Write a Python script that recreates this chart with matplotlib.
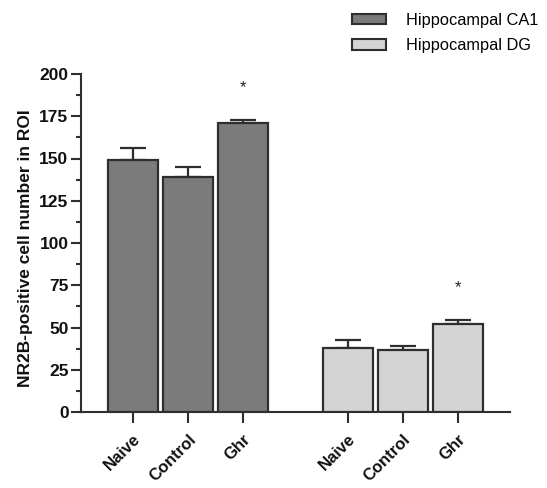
import matplotlib
matplotlib.use("Agg")
import matplotlib.pyplot as plt
from matplotlib.patches import Patch
from matplotlib.ticker import MultipleLocator

plt.rcParams["font.family"] = ["Liberation Sans", "DejaVu Sans"]

groups = ["Hippocampal CA1", "Hippocampal DG"]
categories = ["Naive", "Control", "Ghr"]
ca1_means = [149, 139, 171]
ca1_err = [7, 6, 2]
dg_means = [38, 36.5, 52]
dg_err = [4.5, 2.5, 2.5]
ca1_sig = [False, False, True]
dg_sig = [False, False, True]
y_ticks = [0, 25, 50, 75, 100, 125, 150, 175, 200]

dark = "#7b7b7b"
light = "#d4d4d4"
edge = "#2e2e2e"

fig = plt.figure(figsize=(5.47, 4.88), dpi=100)
ax = fig.add_axes([81/547, 1-412/488, (510-81)/547, (412-74)/488])

x1 = [0, 1, 2]
x2 = [3.9, 4.9, 5.9]
w = 0.91
ekw = dict(elinewidth=1.6, capthick=1.6, ecolor=edge)
ax.bar(x1, ca1_means, width=w, color=dark, edgecolor=edge, linewidth=1.6, zorder=3)
ax.errorbar(x1, ca1_means, yerr=[[0]*3, ca1_err], fmt="none", capsize=9.5, zorder=2, **ekw)
ax.bar(x2, dg_means, width=w, color=light, edgecolor=edge, linewidth=1.6, zorder=3)
ax.errorbar(x2, dg_means, yerr=[[0]*3, dg_err], fmt="none", capsize=9.5, zorder=2, **ekw)

for xs, m, e, s in [(x1, ca1_means, ca1_err, ca1_sig), (x2, dg_means, dg_err, dg_sig)]:
    for xi, mi, ei, si in zip(xs, m, e, s):
        if si:
            ax.text(xi, mi + ei + 19, "*", ha="center", va="center", fontsize=12, color="#222")

ax.set_xlim(-0.945, 6.85)
ax.set_ylim(0, 200)
ax.set_yticks(y_ticks)
ax.yaxis.set_minor_locator(MultipleLocator(12.5))
ax.set_xticks(x1 + x2)
ax.set_xticklabels(categories + categories, rotation=45, ha="right", rotation_mode="anchor",
                   fontsize=12, fontweight="bold")
for lab in ax.get_yticklabels():
    lab.set_fontweight("bold")
    lab.set_fontsize(12.5)
ax.tick_params(axis="y", which="major", length=7, width=1.5, direction="out", pad=2, colors=edge)
ax.tick_params(axis="y", which="minor", length=3.6, width=1.5, direction="out", colors=edge)
ax.tick_params(axis="x", which="major", length=8, width=1.5, direction="out", pad=6, colors=edge)
ax.tick_params(labelcolor="#111")
for sp in ["top", "right"]:
    ax.spines[sp].set_visible(False)
for sp in ["left", "bottom"]:
    ax.spines[sp].set_linewidth(1.5)
    ax.spines[sp].set_color(edge)
ax.set_ylabel("NR2B-positive cell number in ROI", fontsize=12.5, fontweight="bold", labelpad=4,
              color="#111")
ax.yaxis.set_label_coords(-0.112, 0.485)

handles = [Patch(facecolor=dark, edgecolor=edge, linewidth=1.5, label=groups[0]),
           Patch(facecolor=light, edgecolor=edge, linewidth=1.5, label=groups[1])]
fig.legend(handles=handles, loc="upper left", bbox_to_anchor=(337/547, 1+2/488), frameon=False,
           fontsize=11.8, handlelength=2.1, handleheight=0.6, handletextpad=1.2, labelspacing=0.65)

fig.savefig("out.png", dpi=100)
